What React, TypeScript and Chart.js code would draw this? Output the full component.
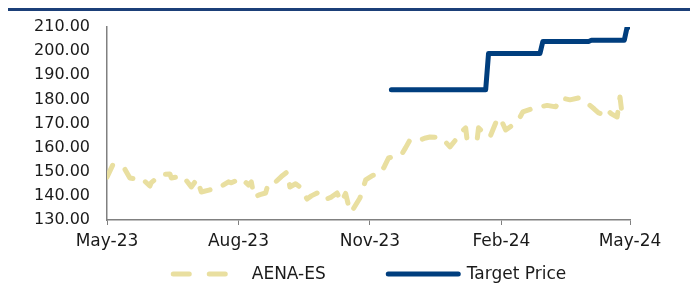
import React, { useEffect, useRef } from "react";
import { Chart, registerables } from "chart.js";

Chart.register(...registerables);

// ---- data ----
const tickDays = [0, 92, 184, 276, 366];
const tickLabels = ["May-23", "Aug-23", "Nov-23", "Feb-24", "May-24"];

const seriesNames = ["AENA-ES", "Target Price"];

// days since 1 May 2023
const aenaDays = [
  0, 4, 10, 12, 16, 20, 24, 30, 31, 34, 37, 44, 45, 50, 53, 59, 63, 66, 72, 78,
  85, 87, 91, 94, 99, 101, 103, 107, 111, 113, 118, 122, 126, 128, 132, 135, 140, 143, 147, 152,
  157, 161, 164, 167, 169, 171, 177, 181, 186, 191, 194, 197, 206, 209, 212, 219, 223, 226, 234, 240,
  244, 247, 251, 252, 259, 260, 264, 268, 272, 275, 279, 283, 288, 291, 297, 303, 308, 314, 318, 324,
  330, 335, 337, 341, 344, 348, 350, 353, 357, 359, 360,
];
const aenaValues = [
  147.8, 152.8, 151.6, 151.6, 147.4, 147.0, 147.4, 144.1, 145.5, 147.0, 148.7, 149.1, 147.4, 148.0, 148.3, 143.7, 147.0, 141.6, 142.5, 143.3,
  145.8, 145.4, 146.5, 147.4, 144.5, 145.8, 139.5, 140.5, 141.2, 145.4, 145.8, 148.0, 149.9, 143.7, 145.0, 143.7, 138.7, 140.0, 141.2, 138.3,
  139.5, 141.2, 137.5, 141.0, 136.0, 133.3, 139.1, 146.6, 148.5, 149.0, 152.0, 155.7, 157.0, 160.0, 163.2, 163.2, 164.0, 164.4, 164.2, 160.3,
  163.2, 166.0, 168.2, 163.2, 163.2, 168.2, 166.0, 164.4, 170.2, 172.5, 167.3, 169.0, 171.5, 174.8, 176.0, 176.9, 177.5, 176.9, 180.6, 179.8,
  180.6, 178.5, 178.0, 176.0, 174.4, 173.6, 175.6, 174.0, 172.7, 181.0, 176.0,
];

const targetDays = [199, 265, 267, 303, 305, 337, 339, 362, 364, 366];
const targetValues = [184, 184, 199, 199, 204, 204, 204.5, 204.5, 210, 210];

const yMin = 130;
const yMax = 210;
const yStep = 10;

// ---- style ----
const FONT = "'DejaVu Sans', sans-serif";
const TEXT = "#1a1a1a";
const AXIS = "#808080";
const AENA_COLOR = "#E9DFA0";
const TARGET_COLOR = "#003E7E";
const HEADER_COLOR = "#1B3F78";
const DASH = [13, 14];
const LEGEND_DASH = [16, 20];

const legendPlugin = {
  id: "bottomLegend",
  afterDraw(chart: any) {
    const { ctx, chartArea } = chart;
    ctx.save();
    ctx.font = `17px ${FONT}`;
    ctx.textBaseline = "middle";
    ctx.textAlign = "left";
    const sampleW = 75;
    const gapText = 6;
    const gapItem = 60;
    const items = chart.data.datasets.map((ds: any) => ({
      label: ds.label,
      color: ds.borderColor,
      dash: ds.borderDash ? LEGEND_DASH : [],
      width: ds.borderWidth,
      tw: ctx.measureText(ds.label).width,
    }));
    const total =
      items.reduce((s: number, it: any) => s + sampleW + gapText + it.tw, 0) +
      gapItem * (items.length - 1);
    let x = (chartArea.left + chartArea.right) / 2 - total / 2;
    const y = 274;
    items.forEach((it: any) => {
      ctx.beginPath();
      ctx.setLineDash(it.dash);
      ctx.lineCap = "round";
      ctx.lineWidth = it.width;
      ctx.strokeStyle = it.color;
      ctx.moveTo(x + 2.5, y);
      ctx.lineTo(x + sampleW - 2.5, y);
      ctx.stroke();
      ctx.setLineDash([]);
      ctx.fillStyle = TEXT;
      ctx.fillText(it.label, x + sampleW + gapText, y + 1);
      x += sampleW + gapText + it.tw + gapItem;
    });
    ctx.restore();
  },
};

export default function App() {
  const canvasRef = useRef<HTMLCanvasElement | null>(null);

  useEffect(() => {
    if (!canvasRef.current) return;
    const chart = new Chart(canvasRef.current, {
      type: "line",
      data: {
        datasets: [
          {
            label: seriesNames[0],
            data: aenaDays.map((d, i) => ({ x: d, y: aenaValues[i] })),
            borderColor: AENA_COLOR,
            backgroundColor: AENA_COLOR,
            borderWidth: 5,
            borderDash: DASH,
            borderCapStyle: "round",
            borderJoinStyle: "round",
            pointRadius: 0,
            tension: 0,
            fill: false,
          },
          {
            label: seriesNames[1],
            data: targetDays.map((d, i) => ({ x: d, y: targetValues[i] })),
            borderColor: TARGET_COLOR,
            backgroundColor: TARGET_COLOR,
            borderWidth: 5,
            borderCapStyle: "round",
            borderJoinStyle: "round",
            pointRadius: 0,
            tension: 0,
            fill: false,
          },
        ],
      },
      options: {
        animation: false,
        responsive: false,
        devicePixelRatio: 1,
        layout: { padding: { left: 0, right: 65, top: 27, bottom: 40 } },
        plugins: {
          legend: { display: false },
          tooltip: { enabled: false },
        },
        scales: {
          x: {
            type: "linear",
            min: tickDays[0],
            max: tickDays[tickDays.length - 1],
            afterBuildTicks: (scale: any) => {
              scale.ticks = tickDays.map((v) => ({ value: v }));
            },
            afterFit: (scale: any) => {
              scale.height = 34;
            },
            ticks: {
              autoSkip: false,
              maxRotation: 0,
              padding: 6,
              color: TEXT,
              font: { family: FONT, size: 17 },
              callback: (v: any) => {
                const i = tickDays.indexOf(Number(v));
                return i >= 0 ? tickLabels[i] : "";
              },
            },
            grid: {
              display: true,
              drawOnChartArea: false,
              drawTicks: true,
              tickLength: 5,
              color: AXIS,
              lineWidth: 1,
            },
            border: { display: true, color: AXIS, width: 1.5 },
          },
          y: {
            min: yMin,
            max: yMax,
            afterFit: (scale: any) => {
              scale.width = 107;
            },
            ticks: {
              stepSize: yStep,
              padding: 17,
              color: TEXT,
              font: { family: FONT, size: 16 },
              callback: (v: any) => Number(v).toFixed(2),
            },
            grid: { display: false, drawTicks: false },
            border: { display: true, color: AXIS, width: 1.5 },
          },
        },
      },
      plugins: [legendPlugin],
    } as any);
    return () => chart.destroy();
  }, []);

  return (
    <div
      style={{
        position: "fixed",
        left: 0,
        top: 0,
        width: 695,
        height: 294,
        background: "#fff",
        overflow: "hidden",
      }}
    >
      <div
        style={{
          position: "absolute",
          left: 8,
          top: 8,
          width: 682,
          height: 3,
          background: HEADER_COLOR,
        }}
      />
      <canvas
        ref={canvasRef}
        width={695}
        height={294}
        style={{ position: "absolute", left: 0, top: 0, width: 695, height: 294 }}
      />
    </div>
  );
}
